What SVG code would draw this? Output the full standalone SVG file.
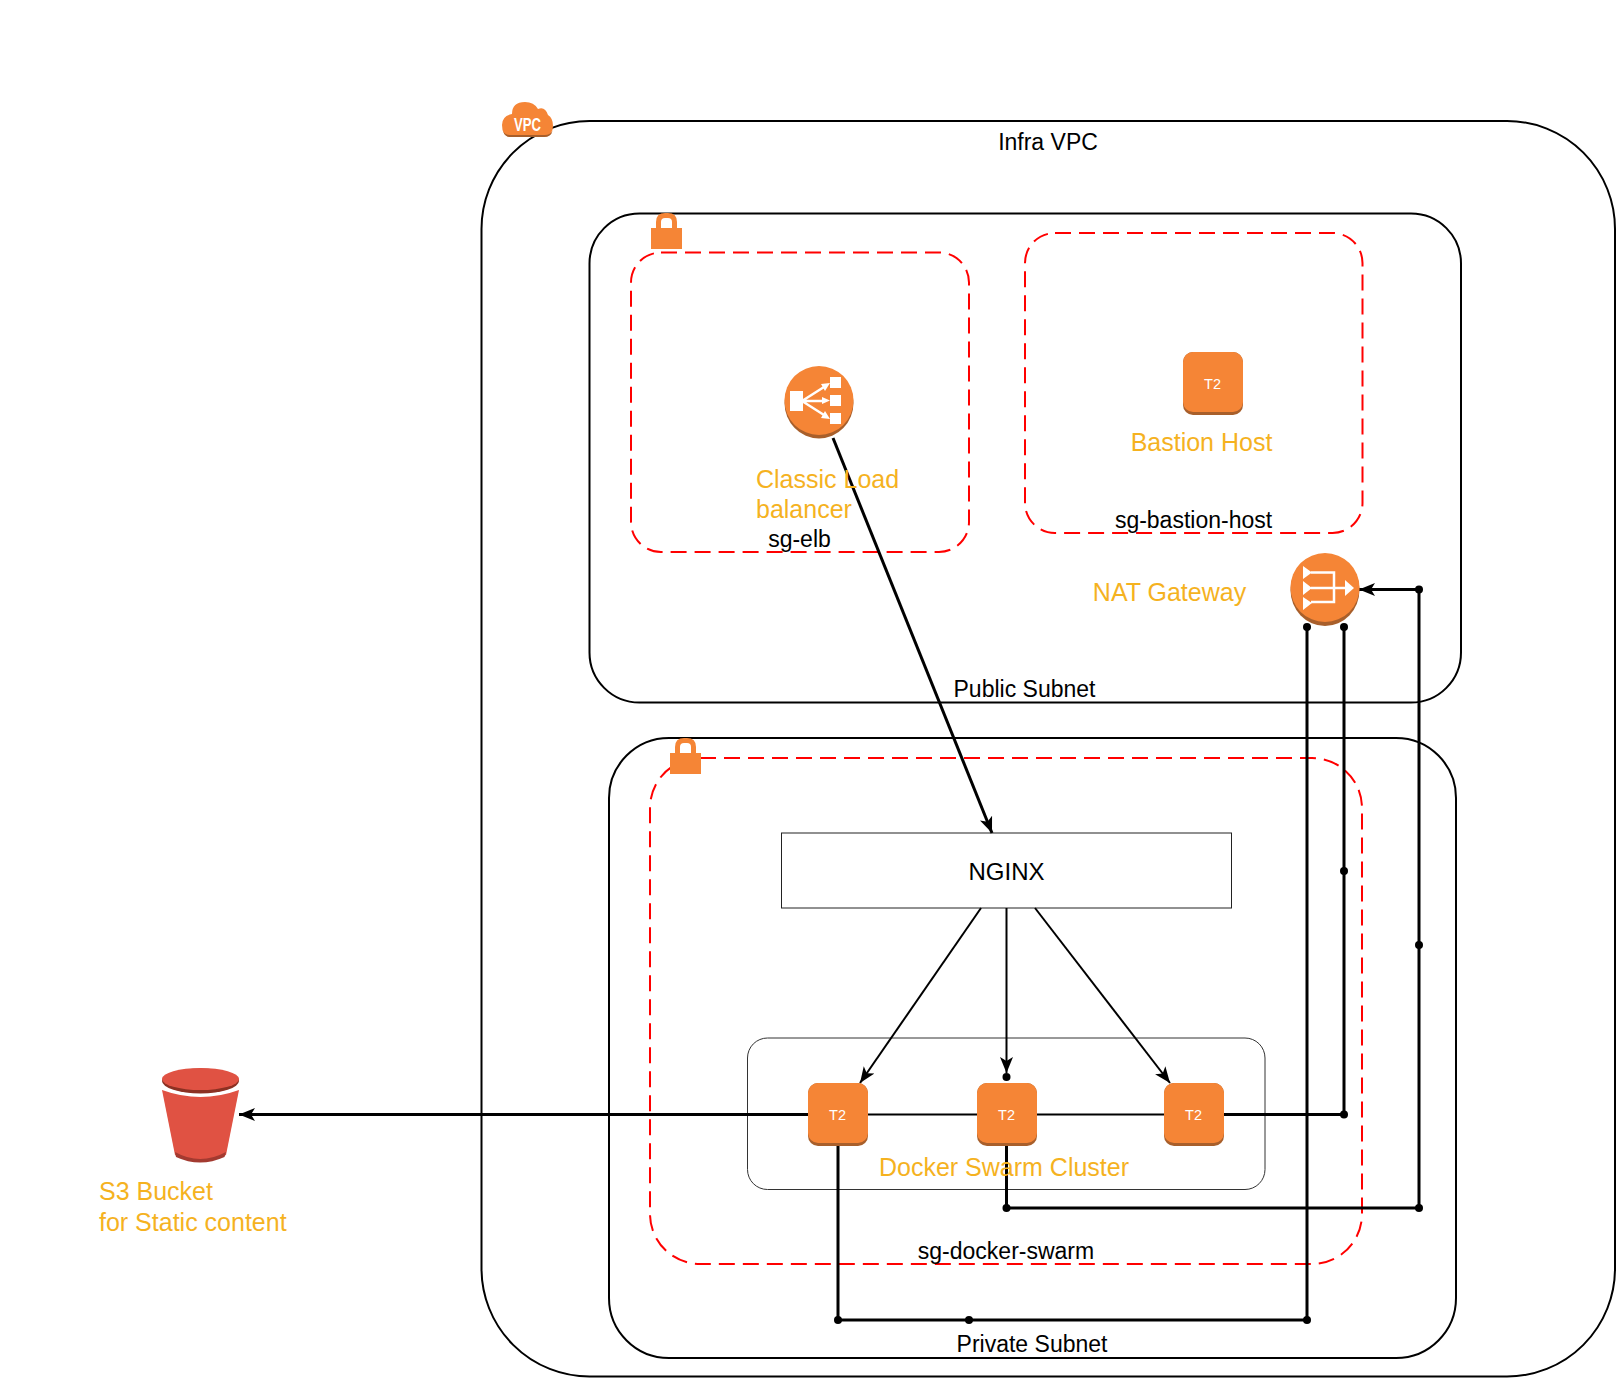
<svg xmlns="http://www.w3.org/2000/svg" width="1617" height="1378" viewBox="0 0 1617 1378">
<style>
text{font-family:"Liberation Sans",Arial,sans-serif;font-size:23px;fill:#000}
.o{fill:#f5b21f;font-size:25px}
.m{text-anchor:middle}
.t2{fill:#fff;font-size:14.5px;text-anchor:middle}
.box{fill:none;stroke:#000;stroke-width:2}
.sg{fill:none;stroke:#f00;stroke-width:2;stroke-dasharray:16 8}
.c{fill:none;stroke:#000;stroke-width:3}
.c2{fill:none;stroke:#000;stroke-width:2}
.d{fill:#000}
.w{fill:#fff}
.ws{fill:none;stroke:#fff;stroke-width:2.5}
</style>
<defs>
<marker id="arr" markerUnits="userSpaceOnUse" markerWidth="20" markerHeight="20" refX="16" refY="8" orient="auto"><path d="M0 1.5L16 8L0 14.500L4 8Z" fill="#000"/></marker>
<g id="t2icon">
<rect x="0" y="0" width="60" height="63" rx="10" fill="#a85f2b"/>
<rect x="0" y="0" width="60" height="60" rx="10" fill="#f58536"/>
<text class="t2" x="29.500" y="37">T2</text>
</g>
<g id="lock">
<path d="M7.500 17V9Q7.500 2.500 14 2.500H17Q23.500 2.500 23.500 9V17" fill="none" stroke="#f58536" stroke-width="5"/>
<rect x="0" y="15" width="31" height="21" fill="#f58536"/>
</g>
</defs>
<g id="vpc">
<rect class="box" x="481.500" y="121" width="1133.500" height="1255.500" rx="108"/>
<text class="m" x="1048" y="150">Infra VPC</text>
<path d="M510 137Q502 136 502 125Q502 116 512 114Q512 102 525 102Q534 102 538 109Q545 106 548 115Q553 118 553 126Q553 136 544 137Z" fill="#f58536"/>
<path d="M503 131Q505 135 510 135H545Q550 135 552.500 131Q551 137 544 137H510Q505 137 503 131Z" fill="#a85f2b"/>
<text x="527.500" y="131" style="font-size:18px;font-weight:bold;fill:#fff;text-anchor:middle" textLength="27" lengthAdjust="spacingAndGlyphs">VPC</text>
</g>
<g id="public-subnet">
<rect class="box" x="589.500" y="213.500" width="871.500" height="489" rx="50"/>
<text class="m" x="1024.500" y="697">Public Subnet</text>
</g>
<g id="private-subnet">
<rect class="box" x="609" y="738" width="847" height="620" rx="60"/>
<text class="m" x="1032" y="1352">Private Subnet</text>
</g>
<g id="sg-elb">
<rect class="sg" x="631" y="252.500" width="338" height="299.500" rx="30"/>
<text class="m" x="799.500" y="547">sg-elb</text>
<use href="#lock" x="651" y="213"/>
</g>
<g id="sg-bastion">
<rect class="sg" x="1025" y="233" width="337.500" height="300" rx="30"/>
<text class="m" x="1193.500" y="528">sg-bastion-host</text>
</g>
<g id="sg-docker">
<rect class="sg" x="650" y="758" width="712" height="506" rx="50"/>
<text class="m" x="1006" y="1259">sg-docker-swarm</text>
<use href="#lock" x="670" y="738"/>
</g>
<g id="cluster">
<rect x="747.500" y="1038" width="517.500" height="151.500" rx="20" fill="none" stroke="#333" stroke-width="1"/>
</g>
<g id="nginx">
<rect x="781.500" y="833" width="450" height="75" fill="none" stroke="#222" stroke-width="1"/>
<text class="m" x="1006.500" y="880" style="font-size:24px">NGINX</text>
</g>
<g id="connectors">
<path class="c" d="M833 438L992 833" marker-end="url(#arr)"/>
<path class="c2" d="M981 908L860 1083" marker-end="url(#arr)"/>
<path class="c2" d="M1006.500 908V1073" marker-end="url(#arr)"/>
<path class="c2" d="M1035 908L1170 1083" marker-end="url(#arr)"/>
<path class="c" d="M808 1114.500H239" marker-end="url(#arr)"/>
<path class="c2" d="M868 1114.500H977M1037 1114.500H1164"/>
<path class="c" d="M1224 1114.500H1344V627"/>
<path class="c" d="M1307 627V1320H838V1146"/>
<path class="c" d="M1006.500 1146V1208H1419V589.500H1359" marker-end="url(#arr)"/>
<g class="d">
<circle cx="1006.500" cy="1077" r="4"/>
<circle cx="1344" cy="1114.500" r="4"/>
<circle cx="1344" cy="871" r="4"/>
<circle cx="1344" cy="627" r="4"/>
<circle cx="1307" cy="627" r="4"/>
<circle cx="1307" cy="1320" r="4"/>
<circle cx="969" cy="1320" r="4"/>
<circle cx="838" cy="1320" r="4"/>
<circle cx="1006.500" cy="1208" r="4"/>
<circle cx="1419" cy="1208" r="4"/>
<circle cx="1419" cy="945" r="4"/>
<circle cx="1419" cy="589.500" r="4"/>
</g>
</g>
<g id="elb">
<ellipse cx="819" cy="403" rx="34.500" ry="35.500" fill="#a85f2b"/>
<circle cx="819" cy="400.500" r="34.500" fill="#f58536"/>
<rect class="w" x="790" y="391" width="13" height="20"/>
<rect class="w" x="830" y="377" width="11" height="11"/>
<rect class="w" x="830" y="395" width="11" height="11"/>
<rect class="w" x="830" y="413" width="11" height="11"/>
<path class="ws" d="M802 401L824 387M802 401H824M802 401L824 415"/>
<path class="w" d="M830 383L821 384L825 391ZM830 400.500L822 397V404ZM830 419L821 418L825 411Z"/>
<text class="o" x="756" y="488">Classic Load</text>
<text class="o" x="756" y="518">balancer</text>
</g>
<g id="bastion">
<use href="#t2icon" x="1183" y="352"/>
<text class="o m" x="1201.500" y="451">Bastion Host</text>
</g>
<g id="nat">
<ellipse cx="1325" cy="590" rx="34.500" ry="36" fill="#a85f2b"/>
<circle cx="1325" cy="587.500" r="34.500" fill="#f58536"/>
<path class="w" d="M1303 566L1312 572.500L1303 579ZM1303 581L1312 588L1303 595ZM1303 597L1312 603L1303 610ZM1345 580L1354 588L1345 596Z"/>
<path class="ws" d="M1311 572.500H1334V602H1311M1311 588H1347"/>
<text class="o m" x="1169.500" y="601">NAT Gateway</text>
</g>
<g id="swarm-nodes">
<use href="#t2icon" x="808" y="1083"/>
<use href="#t2icon" x="977" y="1083"/>
<use href="#t2icon" x="1164" y="1083"/>
<text class="o m" x="1004" y="1175.500">Docker Swarm Cluster</text>
</g>
<g id="s3">
<path d="M162 1090L175 1155Q200 1168 226 1155L239 1090Z" fill="#e05243"/>
<path d="M175 1152Q200 1166 226 1152L224.500 1157Q200 1168 176 1157Z" fill="#a33a30"/>
<path d="M162 1086Q200.500 1100 239 1086V1090Q200.500 1104 162 1090Z" fill="#fff"/>
<ellipse cx="200.500" cy="1081" rx="38.500" ry="12.500" fill="#8c3123"/>
<ellipse cx="200.500" cy="1079" rx="38.500" ry="11" fill="#e05243"/>
<text class="o" x="99" y="1200">S3 Bucket</text>
<text class="o" x="99" y="1231">for Static content</text>
</g>
</svg>
